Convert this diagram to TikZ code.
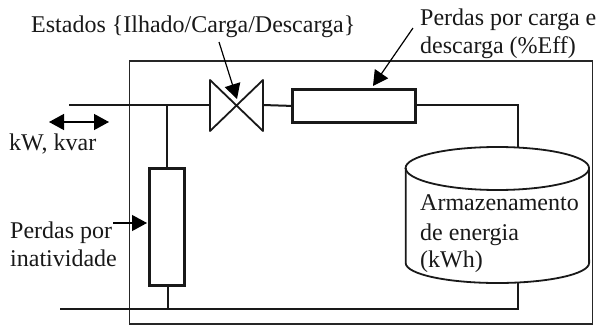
\documentclass[tikz,border=0pt]{standalone}
\usepackage{fontspec}
\setmainfont{Liberation Serif}
\usetikzlibrary{arrows.meta}
\tikzset{
  lbl/.style={inner sep=0pt,anchor=base west,font=\fontsize{24}{24}\selectfont,text=black!90},
  wire/.style={line width=2pt,black!90},
  thick box/.style={draw=black!90,line width=2.8pt,fill=white,inner sep=0pt,minimum width=#1},
  ptr/.style={line width=1.2pt,black,-{Triangle[length=15pt,width=16pt,fill=black]}},
  dbl/.style={line width=1.4pt,black,{Triangle[length=15pt,width=16pt,fill=black]}-{Triangle[length=15pt,width=16pt,fill=black]}}
}
\begin{document}
\begin{tikzpicture}[x=1pt,y=-1pt]
\useasboundingbox (0,0) rectangle (598,327);
\fill[white] (0,0) rectangle (598,327);
% enclosure
\coordinate (r1) at (129.5,61);
\coordinate (r2) at (592.5,324);
\draw[line width=1.6pt,black!85] (r1) rectangle (r2);
% junction coordinates
\coordinate (busL) at (69,105);
\coordinate (jT) at (167,105);
\coordinate (busB) at (60,309);
\coordinate (jB) at (168,309);
\coordinate (corner) at (518,105);
\coordinate (cylT) at (518,147);
\coordinate (cylB) at (518,283);
\coordinate (cornerB) at (518,309);
% nodes
\node[thick box=123pt,minimum height=33pt,anchor=north west] (loss) at (291,88) {};
\node[thick box=35pt,minimum height=117pt,anchor=north west] (idle) at (148,167) {};
\coordinate (vL) at (210,105);
\coordinate (vR) at (263,105);
% wires
\draw[wire] (busL) -- (vL);
\draw[wire] (vR) -- (loss.west);
\draw[wire] (loss.east |- corner) -- (corner) -- (cylT);
\draw[wire] (jT) -- (idle.north -| jT);
\draw[wire] (idle.south -| jB) -- (jB);
\draw[wire] (busB) -- (cornerB) -- (cylB);
% valve
\draw[line width=1.8pt,black!90,line join=round] (210,80) -- (210,131) -- (263,80) -- (263,131) -- cycle;
% cylinder
\draw[line width=1.8pt,black!90,fill=white]
  (405.7,168) -- (405.7,263) arc[start angle=180,end angle=0,x radius=91.7,y radius=20] -- (589,168)
  arc[start angle=0,end angle=-180,x radius=91.7,y radius=21] -- cycle;
\draw[line width=1.8pt,black!90] (405.7,168) arc[start angle=180,end angle=0,x radius=91.7,y radius=22];
% labels
\node[lbl] (tEst) at (31,32) {Estados \{Ilhado/Carga/Descarga\}};
\node[lbl] (tP1) at (420,25) {Perdas por carga e};
\node[lbl] (tP2) at (420,53) {descarga (\%Eff)};
\node[lbl] (tKw) at (9,150) {kW, kvar};
\node[lbl] (tI1) at (10,238) {Perdas por};
\node[lbl] (tI2) at (10,266) {inatividade};
\node[lbl] (tA1) at (420,210) {Armazenamento};
\node[lbl] (tA2) at (420,240) {de energia};
\node[lbl] (tA3) at (420,267) {(kWh)};
% pointers
\coordinate (aE) at (219,42);
\coordinate (aEe) at (237,99);
\coordinate (aP) at (413,28);
\coordinate (aPe) at (373,86);
\coordinate (aI) at (113,223);
\coordinate (aIe) at (147,223);
\coordinate (dL) at (49,122);
\coordinate (dR) at (109,122);
\draw[ptr] (aE) -- (aEe);
\draw[ptr] (aP) -- (aPe);
\draw[ptr] (aI) -- (aIe);
\draw[dbl] (dL) -- (dR);
\end{tikzpicture}
\end{document}
